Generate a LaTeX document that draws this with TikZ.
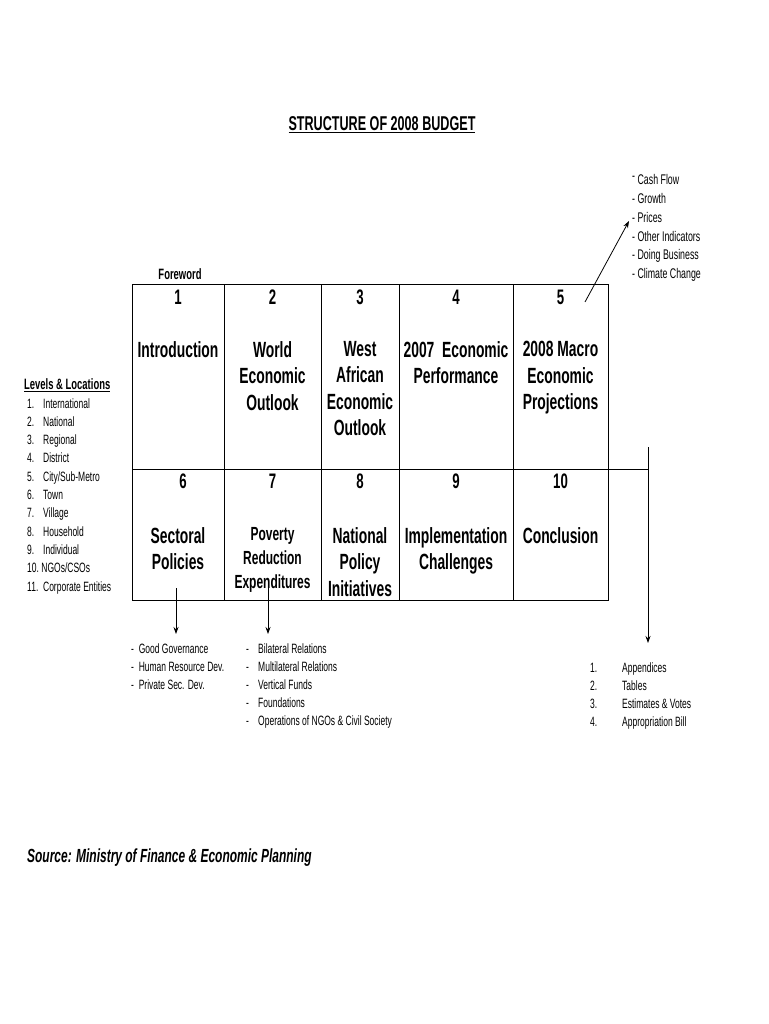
\documentclass[tikz,border=0pt]{standalone}
\usepackage{fontspec}
\setmainfont[FakeStretch=0.63]{Liberation Sans}
\usetikzlibrary{arrows.meta}
\begin{document}
\begin{tikzpicture}[x=1pt,y=-1pt,
  cell/.style={draw,line width=1pt,inner sep=0pt,anchor=north west},
  num/.style={font=\bfseries\fontsize{21}{24}\selectfont,inner sep=0pt,anchor=north},
  boxtxt/.style={font=\bfseries\fontsize{22}{26.5}\selectfont,align=center,inner sep=0pt,anchor=north},
  small/.style={font=\fontsize{13.5}{16}\selectfont,inner sep=0pt,anchor=base west},
  tiny/.style={font=\fontsize{14}{16}\selectfont,inner sep=0pt,anchor=base west},
  arr/.style={line width=0.8pt,-{Stealth[length=7pt,width=5pt]}},
  ln/.style={line width=0.8pt}]
\useasboundingbox (0,0) rectangle (768,1024);
\fill[white] (0,0) rectangle (768,1024);

% title
\node[font=\bfseries\fontsize{20}{24}\selectfont,inner sep=0pt] (title) at (382,125) {\underline{STRUCTURE OF 2008 BUDGET}};

% table cells
\node[cell,minimum width=92,minimum height=185] (c1) at (132,284) {};
\node[cell,minimum width=97,minimum height=185] (c2) at (224,284) {};
\node[cell,minimum width=78,minimum height=185] (c3) at (321,284) {};
\node[cell,minimum width=114,minimum height=185] (c4) at (399,284) {};
\node[cell,minimum width=95,minimum height=185] (c5) at (513,284) {};
\node[cell,minimum width=92,minimum height=131] (c6) at (132,469) {};
\node[cell,minimum width=97,minimum height=131] (c7) at (224,469) {};
\node[cell,minimum width=78,minimum height=131] (c8) at (321,469) {};
\node[cell,minimum width=114,minimum height=131] (c9) at (399,469) {};
\node[cell,minimum width=95,minimum height=131] (c10) at (513,469) {};

\node[font=\bfseries\fontsize{15}{18}\selectfont,inner sep=0pt] (fw) at (180,274) {Foreword};

% numbers
\node[num] (n1) at (178,290) {1};
\node[num] (n2) at (272.5,290) {2};
\node[num] (n3) at (360,290) {3};
\node[num] (n4) at (456,290) {4};
\node[num] (n5) at (560.5,290) {5};
\node[num] (n6) at (183,474) {6};
\node[num] (n7) at (272.5,474) {7};
\node[num] (n8) at (360,474) {8};
\node[num] (n9) at (456,474) {9};
\node[num] (n10) at (560.5,474) {10};

% row 1 texts
\node[boxtxt] (t1) at (178,341) {Introduction};
\node[boxtxt] (t2) at (272.5,341) {World\\Economic\\Outlook};
\node[boxtxt] (t3) at (360,341) {West\\African\\Economic\\Outlook};
\node[boxtxt] (t4) at (456,341) {2007~ Economic\\Performance};
\node[boxtxt] (t5) at (560.5,341) {2008 Macro\\Economic\\Projections};
% row 2 texts
\node[boxtxt] (t6) at (178,527) {Sectoral\\Policies};
\node[boxtxt,font=\bfseries\fontsize{19}{24}\selectfont] (t7) at (272.5,527) {Poverty\\Reduction\\Expenditures};
\node[boxtxt] (t8) at (360,527) {National\\Policy\\Initiatives};
\node[boxtxt] (t9) at (456,527) {Implementation\\Challenges};
\node[boxtxt] (t10) at (560.5,527) {Conclusion};

% top-right list
\node[tiny] (m1) at (632,185) {\raisebox{4pt}{-} Cash Flow};
\node[tiny] (m2) at (632,204) {- Growth};
\node[tiny] (m3) at (632,222.5) {- Prices};
\node[tiny] (m4) at (632,241) {- Other Indicators};
\node[tiny] (m5) at (632,259.5) {- Doing Business};
\node[tiny] (m6) at (632,278) {- Climate Change};

\coordinate (p5a) at (585,302);
\coordinate (p5b) at (629,221);
\draw[arr] (p5a) -- (p5b);

% levels list
\node[font=\bfseries\fontsize{15}{18}\selectfont,inner sep=0pt,anchor=west] (lv) at (24,385) {\underline{Levels \& Locations}};
\node[small] (l1) at (27,408) {\makebox[16pt][l]{1.}International};
\node[small] (l2) at (27,426.3) {\makebox[16pt][l]{2.}National};
\node[small] (l3) at (27,444.6) {\makebox[16pt][l]{3.}Regional};
\node[small] (l4) at (27,462.9) {\makebox[16pt][l]{4.}District};
\node[small] (l5) at (27,481.2) {\makebox[16pt][l]{5.}City/Sub-Metro};
\node[small] (l6) at (27,499.5) {\makebox[16pt][l]{6.}Town};
\node[small] (l7) at (27,517.8) {\makebox[16pt][l]{7.}Village};
\node[small] (l8) at (27,536.1) {\makebox[16pt][l]{8.}Household};
\node[small] (l9) at (27,554.4) {\makebox[16pt][l]{9.}Individual};
\node[small] (l10) at (27,572.7) {10.\ NGOs/CSOs};
\node[small] (l11) at (27,591) {11.\ \ Corporate Entities};

% arrows down
\coordinate (a6s) at (176,588);
\coordinate (a6e) at (176,634);
\draw[arr] (a6s) -- (a6e);
\coordinate (a7s) at (268,588);
\coordinate (a7e) at (268,634);
\draw[arr] (a7s) -- (a7e);

% right connector
\coordinate (r0) at (604,469);
\coordinate (r1) at (648,469);
\coordinate (r2) at (648,447);
\coordinate (r3) at (648,643);
\draw[ln] (r0) -- (r1);
\draw[arr] (r2) -- (r3);

% list under 6
\node[small] (g1) at (131,653) {-\ \ Good Governance};
\node[small] (g2) at (131,671) {-\ \ Human Resource Dev.};
\node[small] (g3) at (131,689) {-\ \ Private Sec. Dev.};

% list under 7
\node[small] (b1) at (246,653) {\makebox[12pt][l]{-}Bilateral Relations};
\node[small] (b2) at (246,671) {\makebox[12pt][l]{-}Multilateral Relations};
\node[small] (b3) at (246,689) {\makebox[12pt][l]{-}Vertical Funds};
\node[small] (b4) at (246,707) {\makebox[12pt][l]{-}Foundations};
\node[small] (b5) at (246,725) {\makebox[12pt][l]{-}Operations of NGOs \& Civil Society};

% right list
\node[small] (e1) at (590,672) {\makebox[32pt][l]{1.}Appendices};
\node[small] (e2) at (590,690) {\makebox[32pt][l]{2.}Tables};
\node[small] (e3) at (590,708) {\makebox[32pt][l]{3.}Estimates \& Votes};
\node[small] (e4) at (590,726) {\makebox[32pt][l]{4.}Appropriation Bill};

% source
\node[font=\bfseries\itshape\fontsize{19}{22}\selectfont,inner sep=0pt,anchor=west] (src) at (27,858) {Source: Ministry of Finance \& Economic Planning};
\end{tikzpicture}
\end{document}
